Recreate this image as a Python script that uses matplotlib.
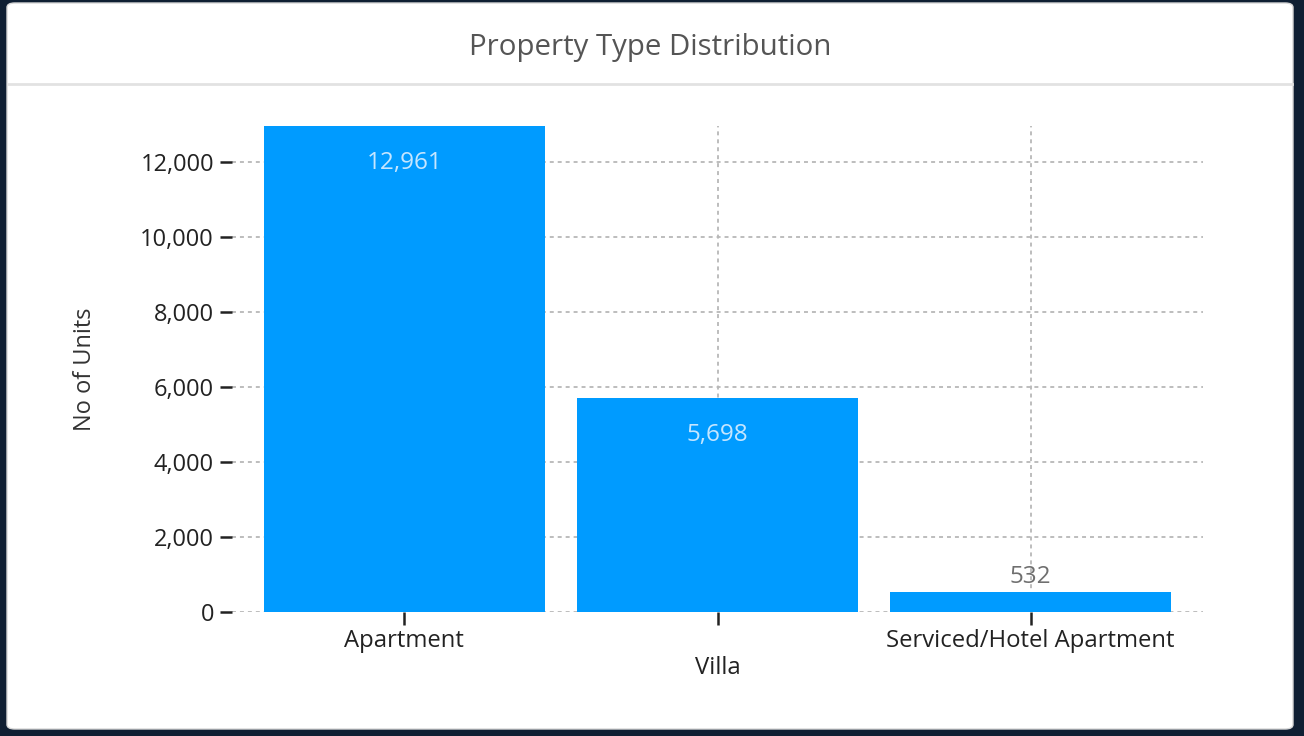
import matplotlib
matplotlib.use("Agg")
import matplotlib.pyplot as plt
from matplotlib.patches import FancyBboxPatch
from matplotlib.lines import Line2D
from matplotlib.ticker import FuncFormatter, MultipleLocator

categories = ["Apartment", "Villa", "Serviced/Hotel Apartment"]
units = [12961, 5698, 532]
title = "Property Type Distribution"
ylabel = "No of Units"

plt.rcParams['font.family'] = ['Open Sans', 'DejaVu Sans']

W, H = 1304, 736
fig = plt.figure(figsize=(W / 100, H / 100), dpi=100)
fig.patch.set_facecolor('#0f1f33')

# card
card = FancyBboxPatch((7 / W, 1 - 729 / H), 1286 / W, 726 / H,
                      boxstyle="round,pad=0,rounding_size=0.006",
                      transform=fig.transFigure, facecolor='white',
                      edgecolor='#d8d8d8', linewidth=1, zorder=-10)
fig.patches.append(card)
fig.lines.append(Line2D([8 / W, 1292 / W], [1 - 84 / H, 1 - 84 / H],
                        transform=fig.transFigure, color='#e2e2e2', lw=2,
                        zorder=-5))
fig.text(650 / W, 1 - 48 / H, title, ha='center', va='center',
         fontsize=21.2, color='#555555')

ax = fig.add_axes([232 / W, 1 - 612 / H, (1203 - 232) / W, (612 - 126) / H])
ax.set_facecolor('none')
x = list(range(len(categories)))
bars = ax.bar(x, units, width=0.896, color='#009bff', zorder=2)
ax.set_xlim(-0.55, len(categories) - 0.45)
ax.set_ylim(0, max(units))

for s in ax.spines.values():
    s.set_visible(False)

ax.yaxis.set_major_locator(MultipleLocator(2000))
ax.yaxis.set_major_formatter(FuncFormatter(lambda v, p: f"{int(v):,}"))
ax.set_xticks(x)
ax.set_xticklabels(categories)
ax.tick_params(axis='y', length=9, width=1.8, color='#222222', labelsize=17,
               labelcolor='#222222', pad=4)
ax.tick_params(axis='x', length=9, width=1.8, color='#222222', labelsize=17.2,
               labelcolor='#222222', pad=3)
ax.xaxis.get_major_ticks()[1].set_pad(23)

ax.grid(True, color='#b8b8b8', linestyle=(0, (2.2, 2.2)), linewidth=1.3, zorder=0)
ax.set_axisbelow(True)

ax.set_ylabel(ylabel, fontsize=17, color='#333333', labelpad=31)

for b, v in zip(bars, units):
    cx = b.get_x() + b.get_width() / 2
    if v > 2000:
        ax.annotate(f"{v:,}", (cx, v), xytext=(0, -37), textcoords='offset pixels',
                    ha='center', va='center', fontsize=17.5, color='#c5e6ff')
    else:
        ax.annotate(f"{v:,}", (cx, v), xytext=(0, 15), textcoords='offset pixels',
                    ha='center', va='center', fontsize=17.5, color='#6f6f6f')

fig.savefig("out.png", dpi=100, facecolor=fig.get_facecolor())
